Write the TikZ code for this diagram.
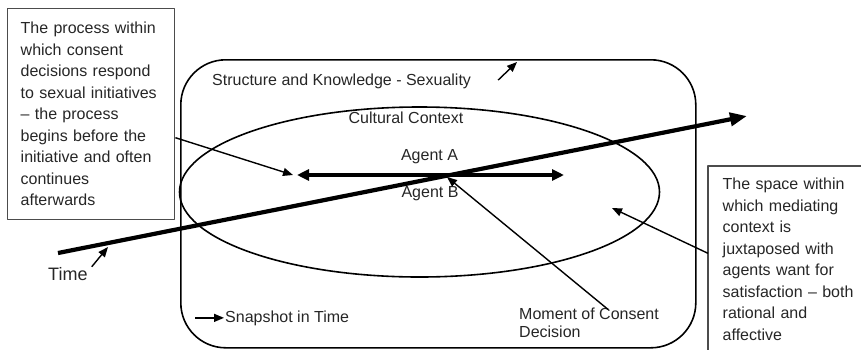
\documentclass[tikz,border=0pt]{standalone}
\usepackage{fontspec}
\setmainfont{Liberation Sans}
\usetikzlibrary{arrows.meta,shapes.geometric}
\tikzset{
  txt/.style={inner sep=0pt,anchor=base west,text=black!85},
  boxtxt/.style={draw=black!70,line width=1.4pt,align=left,text=black!85,inner xsep=13pt,inner ysep=11.5pt,anchor=north west},
  thinarr/.style={line width=1.4pt,-{Triangle[length=10pt,width=8pt]}},
}
\begin{document}
\begin{tikzpicture}[x=1pt,y=-1pt,font=\fontsize{16}{21.5}\selectfont,line join=round]
\useasboundingbox (0,0) rectangle (861,349);
% structure frame and cultural context
\node[draw,line width=1.6pt,rounded corners=45pt,minimum width=515pt,minimum height=288pt,anchor=north west] (structure) at (180,59) {};
\node[ellipse,draw,line width=1.6pt,minimum width=480pt,minimum height=170pt,inner sep=0pt] (culture) at (419.5,192) {};
\node[txt] (sk) at (212,85) {Structure and Knowledge - Sexuality};
\node[txt,anchor=base] (cc) at (406,123) {Cultural Context};
\node[txt,anchor=base] (agA) at (429.5,160) {Agent A};
\node[txt,anchor=base] (agB) at (430,197) {Agent B};
\node[txt] (snap) at (225,322) {Snapshot in Time};
\node[txt,font=\fontsize{16}{18}\selectfont,align=left,anchor=north west] (moment) at (519,307.4) {Moment of Consent\\Decision};
\node[txt,font=\fontsize{18}{18}\selectfont] (time) at (48,280) {Time};
% side boxes
\node[boxtxt,text width=141pt,minimum height=211pt] (process) at (7,8) {The process within\\which consent\\decisions respond\\to sexual initiatives\\– the process\\begins before the\\initiative and often\\continues\\afterwards};
\node[boxtxt,draw=none,text width=140pt,inner xsep=14pt] (space) at (708,166) {The space within\\which mediating\\context is\\juxtaposed with\\agents want for\\satisfaction – both\\rational and\\affective};
\draw[draw=black!70,line width=1.4pt] (space.south west) |- (space.north east);
% time line and agents
\coordinate (t0) at (58,253);
\coordinate (t1) at (747,116);
\coordinate (a0) at (297,175);
\coordinate (a1) at (564,175);
\coordinate (decide) at (447,177);
\coordinate (inner) at (612,208);
\coordinate (tpt) at (108,247);
\coordinate (spt) at (517,62);
\draw[line width=4.2pt,-{Triangle[length=17pt,width=13pt]}] (t0) -- (t1);
\draw[line width=3.2pt,{Triangle[length=12pt,width=11pt]}-{Triangle[length=12pt,width=11pt]}] (a0) -- (a1);
% pointers
\draw[thinarr] ([yshift=-23.5pt]process.east) -- ([xshift=-4pt]a0);
\draw[thinarr] ([xshift=19pt,yshift=-2pt]moment.north) -- (decide);
\draw[thinarr] ([yshift=6pt]space.west) -- (inner);
\draw[thinarr] ([xshift=4pt]time.north east) -- (tpt);
\draw[thinarr] ([shift={(27pt,5pt)}]sk.base east) -- (spt);
\draw[thinarr] ([xshift=-30pt]snap.west) -- ([xshift=-1pt]snap.west);
\end{tikzpicture}
\end{document}
